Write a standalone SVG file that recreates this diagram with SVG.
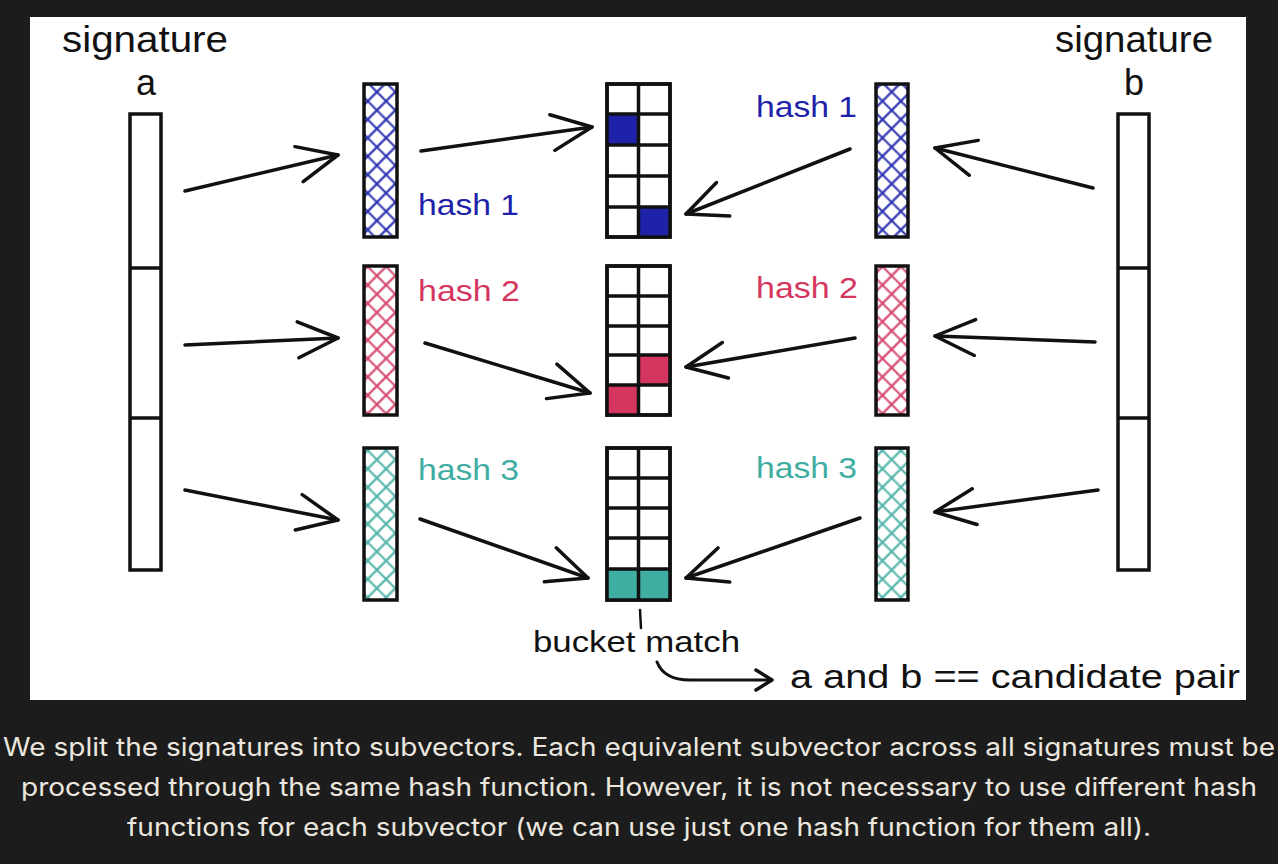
<svg xmlns="http://www.w3.org/2000/svg" width="1278" height="864" viewBox="0 0 1278 864">
<defs>
<style>
.hand{font-family:"Liberation Sans","DejaVu Sans",sans-serif;}
.box{fill:none;stroke:#111;stroke-width:3.5;}
.cell{fill:#fff;stroke:#111;stroke-width:3.5;}
.arr{fill:none;stroke:#111;stroke-width:3.5;stroke-linecap:round;marker-end:url(#head);}
.blue{fill:#1e22a8;}
.pink{fill:#d5365f;}
.teal{fill:#3fada2;}
.cap{font-family:Inter,"Noto Sans",sans-serif;font-size:25px;fill:#ebe7df;}
</style>
<marker id="head" viewBox="0 0 44 40" refX="42" refY="20" markerWidth="44" markerHeight="40" markerUnits="userSpaceOnUse" orient="auto">
<path d="M2,2 L42,20 L2,38" fill="none" stroke="#111" stroke-width="3.5" stroke-linecap="round" stroke-linejoin="round"/>
</marker>
<pattern id="hBlue" width="13" height="13" patternUnits="userSpaceOnUse" patternTransform="rotate(45)">
<path d="M6.5,0 V13 M0,6.5 H13" stroke="#2a2fb0" stroke-width="2.2"/>
</pattern>
<pattern id="hPink" width="13" height="13" patternUnits="userSpaceOnUse" patternTransform="rotate(45)">
<path d="M6.5,0 V13 M0,6.5 H13" stroke="#d5456c" stroke-width="2.2"/>
</pattern>
<pattern id="hTeal" width="13" height="13" patternUnits="userSpaceOnUse" patternTransform="rotate(45)">
<path d="M6.5,0 V13 M0,6.5 H13" stroke="#4fb3a8" stroke-width="2.2"/>
</pattern>
</defs>
<rect width="1278" height="864" fill="#1c1c1c"/>
<rect x="30" y="17" width="1216" height="683" fill="#fff"/>

<g id="signature-a">
<text class="hand" x="62" y="52" font-size="36" fill="#111" textLength="166" lengthAdjust="spacingAndGlyphs">signature</text>
<text class="hand" x="146" y="95" font-size="36" fill="#111" text-anchor="middle">a</text>
<rect class="box" x="130" y="114" width="31" height="456" fill="#fff"/>
<line x1="130" y1="268" x2="161" y2="268" stroke="#111" stroke-width="3.5"/>
<line x1="130" y1="418" x2="161" y2="418" stroke="#111" stroke-width="3.5"/>
</g>

<g id="signature-b">
<text class="hand" x="1055" y="52" font-size="36" fill="#111" textLength="158" lengthAdjust="spacingAndGlyphs">signature</text>
<text class="hand" x="1134" y="95" font-size="36" fill="#111" text-anchor="middle">b</text>
<rect class="box" x="1118" y="114" width="31" height="456" fill="#fff"/>
<line x1="1118" y1="268" x2="1149" y2="268" stroke="#111" stroke-width="3.5"/>
<line x1="1118" y1="418" x2="1149" y2="418" stroke="#111" stroke-width="3.5"/>
</g>

<g id="a-sub1"><rect x="364" y="84" width="33" height="153" fill="url(#hBlue)" stroke="#111" stroke-width="3.5"/></g>
<g id="a-sub2"><rect x="364" y="266" width="33" height="149" fill="url(#hPink)" stroke="#111" stroke-width="3.5"/></g>
<g id="a-sub3"><rect x="364" y="448" width="33" height="152" fill="url(#hTeal)" stroke="#111" stroke-width="3.5"/></g>
<g id="b-sub1"><rect x="876" y="84" width="32" height="153" fill="url(#hBlue)" stroke="#111" stroke-width="3.5"/></g>
<g id="b-sub2"><rect x="876" y="266" width="32" height="149" fill="url(#hPink)" stroke="#111" stroke-width="3.5"/></g>
<g id="b-sub3"><rect x="876" y="448" width="32" height="152" fill="url(#hTeal)" stroke="#111" stroke-width="3.5"/></g>

<g id="labels">
<text class="hand" x="418" y="215" font-size="29" fill="#1e22a8" textLength="101" lengthAdjust="spacingAndGlyphs">hash 1</text>
<text class="hand" x="418" y="301" font-size="29" fill="#d5365f" textLength="102" lengthAdjust="spacingAndGlyphs">hash 2</text>
<text class="hand" x="418" y="480" font-size="29" fill="#3fada2" textLength="101" lengthAdjust="spacingAndGlyphs">hash 3</text>
<text class="hand" x="756" y="117" font-size="29" fill="#1e22a8" textLength="101" lengthAdjust="spacingAndGlyphs">hash 1</text>
<text class="hand" x="756" y="298" font-size="29" fill="#d5365f" textLength="102" lengthAdjust="spacingAndGlyphs">hash 2</text>
<text class="hand" x="756" y="478" font-size="29" fill="#3fada2" textLength="101" lengthAdjust="spacingAndGlyphs">hash 3</text>
</g>

<g id="bucket1">
<rect class="cell" x="607" y="84" width="63" height="153"/>
<rect class="blue" x="607" y="114" width="31" height="31"/>
<rect class="blue" x="638" y="207" width="32" height="30"/>
<path class="box" d="M638.5,84 V237 M607,114 H670 M607,145 H670 M607,176 H670 M607,207 H670"/>
<rect class="box" x="607" y="84" width="63" height="153"/>
</g>
<g id="bucket2">
<rect class="cell" x="607" y="266" width="63" height="149"/>
<rect class="pink" x="638" y="355" width="32" height="30"/>
<rect class="pink" x="607" y="385" width="31" height="30"/>
<path class="box" d="M638.5,266 V415 M607,296 H670 M607,326 H670 M607,355 H670 M607,385 H670"/>
<rect class="box" x="607" y="266" width="63" height="149"/>
</g>
<g id="bucket3">
<rect class="cell" x="607" y="448" width="63" height="152"/>
<rect class="teal" x="607" y="569" width="63" height="31"/>
<path class="box" d="M638.5,448 V600 M607,478 H670 M607,508 H670 M607,538 H670 M607,569 H670"/>
<rect class="box" x="607" y="448" width="63" height="152"/>
</g>

<g id="connectors">
<line class="arr" x1="185" y1="191" x2="338" y2="155"/>
<line class="arr" x1="185" y1="345" x2="338" y2="338"/>
<line class="arr" x1="185" y1="490" x2="338" y2="520"/>
<line class="arr" x1="421" y1="151" x2="592" y2="127"/>
<line class="arr" x1="425" y1="343" x2="590" y2="393"/>
<line class="arr" x1="420" y1="519" x2="588" y2="578"/>
<line class="arr" x1="850" y1="149" x2="686" y2="214"/>
<line class="arr" x1="855" y1="338" x2="686" y2="367"/>
<line class="arr" x1="860" y1="518" x2="686" y2="578"/>
<line class="arr" x1="1093" y1="188" x2="935" y2="148"/>
<line class="arr" x1="1095" y1="342" x2="935" y2="336"/>
<line class="arr" x1="1098" y1="490" x2="935" y2="512"/>
<line x1="640" y1="610" x2="641" y2="628" stroke="#111" stroke-width="2.5" stroke-linecap="round"/>
<path d="M657,662 Q664,680 690,680 L770,680" fill="none" stroke="#111" stroke-width="3" stroke-linecap="round"/>
<path d="M756,670 L772,680 L756,690" fill="none" stroke="#111" stroke-width="3.5" stroke-linecap="round" stroke-linejoin="round"/>
</g>

<g id="notes">
<text class="hand" x="533" y="652" font-size="29" fill="#111" textLength="207" lengthAdjust="spacingAndGlyphs">bucket match</text>
<text class="hand" x="790" y="688" font-size="34" fill="#111" textLength="450" lengthAdjust="spacingAndGlyphs">a and b == candidate pair</text>
</g>

<g id="caption">
<text class="cap" x="639" y="756" text-anchor="middle" textLength="1272" lengthAdjust="spacingAndGlyphs">We split the signatures into subvectors. Each equivalent subvector across all signatures must be</text>
<text class="cap" x="639" y="796" text-anchor="middle" textLength="1236" lengthAdjust="spacingAndGlyphs">processed through the same hash function. However, it is not necessary to use different hash</text>
<text class="cap" x="639" y="836" text-anchor="middle" textLength="1024" lengthAdjust="spacingAndGlyphs">functions for each subvector (we can use just one hash function for them all).</text>
</g>
</svg>
